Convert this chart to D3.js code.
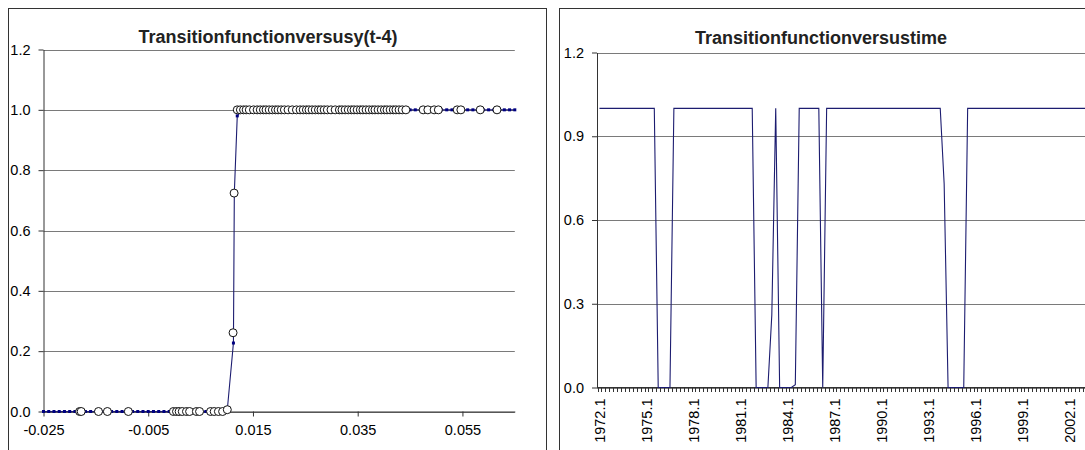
<!DOCTYPE html>
<html><head><meta charset="utf-8">
<script src="https://cdn.jsdelivr.net/npm/d3@7"></script>
<style>body{margin:0;background:#fff;} svg{display:block;}</style>
</head><body><svg id="c" width="1085" height="450"></svg>
<script>
// ---------------- DATA ----------------
const leftTitle = "Transitionfunctionversusy(t-4)";
const rightTitle = "Transitionfunctionversustime";

// observed points (open circles), left chart
const obsX = [-0.0181,-0.0178,-0.0145,-0.0128,-0.0088,-0.0002,0.0004,0.0009,0.0015,0.0023,0.0029,0.0042,0.0048,0.0069,0.0076,0.0084,0.0092,0.0101,
  0.0112,0.0114,
  0.0120,0.0126,0.0132,0.0137,0.0143,0.0151,0.0158,0.0164,0.0170,0.0175,0.0181,0.0187,0.0193,0.0198,0.0204,0.0210,0.0217,0.0225,0.0233,0.0240,
  0.0246,0.0252,0.0257,0.0263,0.0269,0.0275,0.0280,0.0286,0.0292,0.0299,0.0307,0.0315,0.0320,0.0326,0.0332,0.0338,0.0343,0.0349,0.0355,0.0360,
  0.0366,0.0372,0.0378,0.0383,0.0389,0.0395,0.0401,0.0406,0.0412,0.0418,0.0423,0.0429,0.0435,0.0442,0.0475,0.0484,0.0496,0.0504,0.0540,0.0547,
  0.0584,0.0616];
const obsY = [0,0,0,0,0,0,0,0,0,0,0,0,0,0,0,0,0,0.006,
  0.261,0.724,
  1,1,1,1,1,1,1,1,1,1,1,1,1,1,1,1,1,1,1,1,
  1,1,1,1,1,1,1,1,1,1,1,1,1,1,1,1,1,1,1,1,
  1,1,1,1,1,1,1,1,1,1,1,1,1,1,1,1,1,1,1,1,
  1,1];

// fitted transition function (small squares + line), left chart
const fitX = [-0.025,-0.024,-0.023,-0.022,-0.021,-0.020,-0.019,-0.018,-0.017,-0.016,-0.015,-0.014,-0.013,-0.012,-0.011,-0.010,-0.009,-0.008,
  -0.007,-0.006,-0.005,-0.004,-0.003,-0.002,-0.001,0.000,0.001,0.002,0.003,0.004,0.005,0.006,0.007,0.008,0.009,
  0.0101,0.01127,0.01144,0.0120,
  0.013,0.014,0.015,0.016,0.017,0.018,0.019,0.020,0.021,0.022,0.023,0.024,0.025,0.026,0.027,0.028,0.029,0.030,0.031,0.032,
  0.033,0.034,0.035,0.036,0.037,0.038,0.039,0.040,0.041,0.042,0.043,0.044,0.045,0.046,0.047,0.048,0.049,0.050,0.051,0.052,
  0.053,0.054,0.055,0.056,0.057,0.058,0.059,0.060,0.061,0.062,0.063,0.064,0.065];
const fitY = [0,0,0,0,0,0,0,0,0,0,0,0,0,0,0,0,0,0,
  0,0,0,0,0,0,0,0,0,0,0,0,0,0,0,0,0,
  0.006,0.227,0.724,0.98,
  1,1,1,1,1,1,1,1,1,1,1,1,1,1,1,1,1,1,1,1,
  1,1,1,1,1,1,1,1,1,1,1,1,1,1,1,1,1,1,1,1,
  1,1,1,1,1,1,1,1,1,1,1,1,1];

const leftYTicks = [0.0,0.2,0.4,0.6,0.8,1.0,1.2];
const leftXTicks = [-0.025,-0.005,0.015,0.035,0.055];
const leftXMax = 0.065;

// right chart: quarters and transition values
const quarters = [
 "1972.1","1972.2","1972.3","1972.4","1973.1","1973.2","1973.3","1973.4","1974.1","1974.2","1974.3","1974.4",
 "1975.1","1975.2","1975.3","1975.4","1976.1","1976.2","1976.3","1976.4","1977.1","1977.2","1977.3","1977.4",
 "1978.1","1978.2","1978.3","1978.4","1979.1","1979.2","1979.3","1979.4","1980.1","1980.2","1980.3","1980.4",
 "1981.1","1981.2","1981.3","1981.4","1982.1","1982.2","1982.3","1982.4","1983.1","1983.2","1983.3","1983.4",
 "1984.1","1984.2","1984.3","1984.4","1985.1","1985.2","1985.3","1985.4","1986.1","1986.2","1986.3","1986.4",
 "1987.1","1987.2","1987.3","1987.4","1988.1","1988.2","1988.3","1988.4","1989.1","1989.2","1989.3","1989.4",
 "1990.1","1990.2","1990.3","1990.4","1991.1","1991.2","1991.3","1991.4","1992.1","1992.2","1992.3","1992.4",
 "1993.1","1993.2","1993.3","1993.4","1994.1","1994.2","1994.3","1994.4","1995.1","1995.2","1995.3","1995.4",
 "1996.1","1996.2","1996.3","1996.4","1997.1","1997.2","1997.3","1997.4","1998.1","1998.2","1998.3","1998.4",
 "1999.1","1999.2","1999.3","1999.4","2000.1","2000.2","2000.3","2000.4","2001.1","2001.2","2001.3","2001.4",
 "2002.1","2002.2","2002.3","2002.4","2003.1","2003.2","2003.3","2003.4","2004.1","2004.2","2004.3","2004.4"];
const transition = [
 1,1,1,1,1,1,1,1,1,1,1,1,
 1,1,1,0,0,0,0,1,1,1,1,1,
 1,1,1,1,1,1,1,1,1,1,1,1,
 1,1,1,1,0,0,0,0,0.26,1,0,0,
 0,0,0.01,1,1,1,1,1,1,0,1,1,
 1,1,1,1,1,1,1,1,1,1,1,1,
 1,1,1,1,1,1,1,1,1,1,1,1,
 1,1,1,1,0.73,0,0,0,0,0,1,1,
 1,1,1,1,1,1,1,1,1,1,1,1,
 1,1,1,1,1,1,1,1,1,1,1,1,
 1,1,1,1,1,1,1,1,1,1,1,1];
const rightYTicks = [0.0,0.3,0.6,0.9,1.2];
const rightXLabels = ["1972.1","1975.1","1978.1","1981.1","1984.1","1987.1","1990.1","1993.1","1996.1","1999.1","2002.1"];

// ---------------- DRAW ----------------
const FONT = "Arial, 'Liberation Sans', sans-serif";
const svg = d3.select("#c");
svg.append("rect").attr("width",1085).attr("height",450).attr("fill","#fff");

// chart boxes
svg.append("rect").attr("x",8.5).attr("y",8.5).attr("width",538).attr("height",470)
  .attr("fill","#fff").attr("stroke","#333").attr("stroke-width",1);
svg.append("rect").attr("x",559.5).attr("y",8.5).attr("width",600).attr("height",470)
  .attr("fill","#fff").attr("stroke","#333").attr("stroke-width",1);

function styleAxis(g){
  g.attr("font-family",FONT).attr("font-size",14.5);
  g.selectAll("text").attr("fill","#000");
  g.selectAll("line").attr("stroke","#333");
  g.select(".domain").attr("stroke","#333");
}

// ----- left chart -----
const xL = d3.scaleLinear().domain([leftXTicks[0], leftXMax]).range([43.5, 514.8]);
const yL = d3.scaleLinear().domain([0, 1.2]).range([411.5, 49.5]);

const L = svg.append("g");
L.append("g").selectAll("line").data(leftYTicks).join("line")
  .attr("x1",xL.range()[0]).attr("x2",xL.range()[1])
  .attr("y1",d=>Math.round(yL(d))+0.5).attr("y2",d=>Math.round(yL(d))+0.5)
  .attr("stroke","#7a7a7a").attr("stroke-width",1);

L.append("g").attr("transform",`translate(${xL.range()[0]},0)`)
  .call(d3.axisLeft(yL).tickValues(leftYTicks).tickFormat(d=>d.toFixed(1)).tickSize(5).tickSizeOuter(0).tickPadding(8))
  .call(styleAxis);
L.append("g").attr("transform",`translate(0,${yL(0)})`)
  .call(d3.axisBottom(xL).tickValues(leftXTicks).tickFormat(d=>d.toFixed(3)).tickSize(5).tickSizeOuter(0).tickPadding(8))
  .call(styleAxis);

const fitPts = fitX.map((x,i)=>({x, y: fitY[i]}));
L.append("path").datum(fitPts)
  .attr("d", d3.line().x(d=>xL(d.x)).y(d=>yL(d.y)))
  .attr("fill","none").attr("stroke","#1c1c70").attr("stroke-width",1.1);
L.append("g").selectAll("rect").data(fitPts).join("rect")
  .attr("x",d=>xL(d.x)-1.5).attr("y",d=>yL(d.y)-1.5).attr("width",3).attr("height",3)
  .attr("fill","#000080");

const obsPts = obsX.map((x,i)=>({x, y: obsY[i]}));
L.append("g").selectAll("circle").data(obsPts).join("circle")
  .attr("cx",d=>xL(d.x)).attr("cy",d=>yL(d.y)).attr("r",4)
  .attr("fill","#fff").attr("stroke","#111").attr("stroke-width",1);

L.append("text").attr("x",268).attr("y",43).attr("text-anchor","middle")
  .attr("font-family",FONT).attr("font-size",18).attr("font-weight","bold").attr("fill","#222")
  .text(leftTitle);

// ----- right chart -----
const step = 3.917;
const xR = d3.scaleBand().domain(quarters).range([597.5, 597.5 + quarters.length*step]).padding(0);
const yR = d3.scaleLinear().domain([0, 1.2]).range([387.5, 52.5]);
const bw = xR.bandwidth();

const R = svg.append("g");
R.append("g").selectAll("line").data(rightYTicks).join("line")
  .attr("x1",597).attr("x2",1100)
  .attr("y1",d=>Math.round(yR(d))+0.5).attr("y2",d=>Math.round(yR(d))+0.5)
  .attr("stroke","#7a7a7a").attr("stroke-width",1);

R.append("g").attr("transform","translate(597,0)")
  .call(d3.axisLeft(yR).tickValues(rightYTicks).tickFormat(d=>d.toFixed(1)).tickSize(5).tickSizeOuter(0).tickPadding(8))
  .call(styleAxis);

// x axis line and category tick marks
R.append("line").attr("x1",597).attr("x2",1100).attr("y1",yR(0)).attr("y2",yR(0))
  .attr("stroke","#333");
R.append("g").selectAll("line").data(quarters).join("line")
  .attr("x1",d=>Math.round(xR(d))+0.5).attr("x2",d=>Math.round(xR(d))+0.5)
  .attr("y1",yR(0)).attr("y2",yR(0)+4.5)
  .attr("stroke","#333").attr("stroke-width",1);

const xa = R.append("g").attr("transform",`translate(0,${yR(0)})`)
  .call(d3.axisBottom(xR).tickValues(rightXLabels).tickSize(0).tickSizeOuter(0));
xa.select(".domain").remove();
xa.attr("font-family",FONT).attr("font-size",14.5);
xa.selectAll("text").attr("fill","#000")
  .attr("transform","rotate(-90)").attr("x",-11).attr("y",0).attr("dy","0.35em")
  .style("text-anchor","end");

const rPts = quarters.map((q,i)=>({q, v: transition[i]}));
R.append("path").datum(rPts)
  .attr("d", d3.line().x(d=>xR(d.q)+bw/2).y(d=>yR(d.v)))
  .attr("fill","none").attr("stroke","#1c1c70").attr("stroke-width",1.1);

R.append("text").attr("x",821).attr("y",43.5).attr("text-anchor","middle")
  .attr("font-family",FONT).attr("font-size",18).attr("font-weight","bold").attr("fill","#222")
  .text(rightTitle);
</script>
</body></html>
